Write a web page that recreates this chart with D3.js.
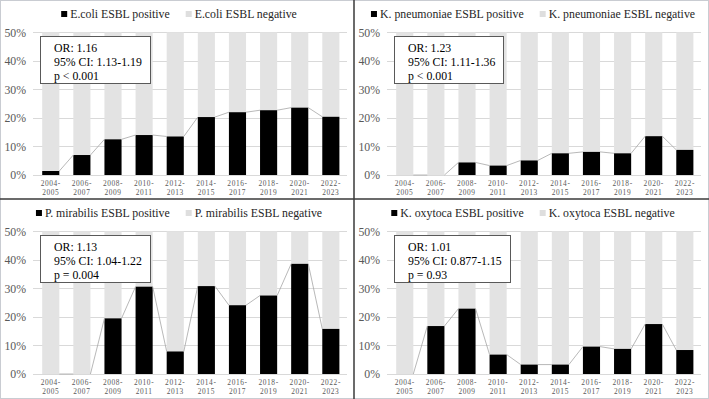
<!DOCTYPE html>
<html>
<head>
<meta charset="utf-8">
<script src="https://cdn.jsdelivr.net/npm/d3@7.9.0/dist/d3.min.js"></script>
<style>
  html, body { margin: 0; padding: 0; background: #fff; }
  svg text { font-family: "Liberation Serif", "Times New Roman", serif; }
</style>
</head>
<body>
<div id="chart"></div>
<script>
// periods on the x axis
const periods = ["2004-2005", "2006-2007", "2008-2009", "2010-2011", "2012-2013",
  "2014-2015", "2016-2017", "2018-2019", "2020-2021", "2022-2023"];

// % ESBL positive per period
const ecoli = [1.4, 7.0, 12.5, 14.0, 13.5, 20.3, 22.0, 22.7, 23.6, 20.4];
const kpneumoniae = [0, 0, 4.4, 3.3, 5.1, 7.6, 8.1, 7.6, 13.6, 8.8];
const pmirabilis = [0, 0, 19.5, 30.6, 7.9, 30.8, 24.1, 27.5, 38.6, 15.8];
const koxytoca = [0, 16.8, 22.9, 6.8, 3.3, 3.3, 9.6, 8.8, 17.5, 8.4];

const organisms = ["E.coli", "K. pneumoniae", "P. mirabilis", "K. oxytoca"];
const seriesValues = [ecoli, kpneumoniae, pmirabilis, koxytoca];
const statLines = [
  ["OR: 1.16", "95% CI: 1.13-1.19", "p < 0.001"],
  ["OR: 1.23", "95% CI: 1.11-1.36", "p < 0.001"],
  ["OR: 1.13", "95% CI: 1.04-1.22", "p = 0.004"],
  ["OR: 1.01", "95% CI: 0.877-1.15", "p = 0.93"]
];
const yTicks = [0, 10, 20, 30, 40, 50];

const width = 709, height = 399;
const panelW = 354, panelH = 199;
const posColor = "#000000", negColor = "#e3e3e3";
const serif = "'Liberation Serif', 'Times New Roman', serif";

const svg = d3.select("#chart").append("svg")
  .attr("width", width)
  .attr("height", height)
  .style("display", "block");

// outer frame
svg.append("rect")
  .attr("x", 0.5).attr("y", 0.5)
  .attr("width", width - 1).attr("height", height - 1)
  .attr("fill", "none")
  .attr("stroke", "#c9ccd2");

const xScale = d3.scaleBand()
  .domain(periods)
  .range([35.2, 346.4])
  .paddingInner(0.45)
  .paddingOuter(0.225);

const yScale = d3.scaleLinear()
  .domain([0, 50])
  .range([175, 32.3])
  .clamp(true);

function drawPanel(i) {
  const values = seriesValues[i];
  const name = organisms[i];
  const g = svg.append("g")
    .attr("transform", `translate(${(i % 2) * panelW}, ${Math.floor(i / 2) * panelH})`);

  // gridlines
  g.append("g")
    .selectAll("line")
    .data(yTicks)
    .join("line")
    .attr("x1", 33).attr("x2", 347)
    .attr("y1", d => Math.round(yScale(d)) + 0.5)
    .attr("y2", d => Math.round(yScale(d)) + 0.5)
    .attr("stroke", "#d9d9d9")
    .attr("stroke-width", 1);

  // y axis labels
  const yAxis = d3.axisLeft(yScale)
    .tickValues(yTicks)
    .tickFormat(d => d + "%")
    .tickSize(0)
    .tickPadding(7);
  const ya = g.append("g")
    .attr("transform", "translate(33,0)")
    .call(yAxis);
  ya.select(".domain").remove();
  ya.attr("font-family", null);
  ya.selectAll("text")
    .attr("fill", "#595959")
    .style("font-family", serif)
    .style("font-size", "11.8px");

  // negative (light) bars, stacked above positive
  g.append("g")
    .selectAll("rect")
    .data(values)
    .join("rect")
    .attr("x", (d, j) => xScale(periods[j]))
    .attr("width", xScale.bandwidth())
    .attr("y", d => yScale(100))
    .attr("height", d => yScale(d) - yScale(100))
    .attr("fill", negColor);

  // positive (black) bars
  g.append("g")
    .selectAll("rect")
    .data(values)
    .join("rect")
    .attr("x", (d, j) => xScale(periods[j]))
    .attr("width", xScale.bandwidth())
    .attr("y", d => yScale(d))
    .attr("height", d => yScale(0) - yScale(d))
    .attr("fill", posColor);

  // series lines between bar tops
  const links = d3.pairs(values.map((v, j) => ({ v, p: periods[j] })));
  g.append("g")
    .selectAll("line")
    .data(links)
    .join("line")
    .attr("x1", d => xScale(d[0].p) + xScale.bandwidth())
    .attr("y1", d => yScale(d[0].v))
    .attr("x2", d => xScale(d[1].p))
    .attr("y2", d => yScale(d[1].v))
    .attr("stroke", "#a6a6a6")
    .attr("stroke-width", 0.8);

  // x axis labels (two lines)
  const xl = g.append("g")
    .selectAll("text")
    .data(periods)
    .join("text")
    .attr("text-anchor", "middle")
    .attr("fill", "#595959")
    .style("font-family", serif)
    .style("font-size", "7.4px")
    .style("letter-spacing", "0.6px");
  xl.append("tspan")
    .attr("x", d => xScale(d) + xScale.bandwidth() / 2)
    .attr("y", 185.5)
    .text(d => d.slice(0, 5));
  xl.append("tspan")
    .attr("x", d => xScale(d) + xScale.bandwidth() / 2)
    .attr("y", 194.5)
    .text(d => d.slice(5));

  // legend
  const legend = g.append("g").attr("transform", "translate(0,18)");
  const items = [
    { label: `${name} ESBL positive`, color: posColor },
    { label: `${name} ESBL negative`, color: "#dedede" }
  ];
  const itemGroups = legend.selectAll("g")
    .data(items)
    .join("g");
  itemGroups.append("rect")
    .attr("width", 6).attr("height", 6)
    .attr("y", -7)
    .attr("fill", d => d.color);
  const texts = itemGroups.append("text")
    .attr("x", 9)
    .attr("fill", "#262626")
    .style("font-family", serif)
    .style("font-size", "11.8px")
    .text(d => d.label);
  const widths = [];
  texts.each(function () { widths.push(this.getComputedTextLength() + 9); });
  const gap = 16;
  const total = widths[0] + gap + widths[1];
  const start = 179 - total / 2;
  itemGroups.attr("transform", (d, j) => `translate(${j === 0 ? start : start + widths[0] + gap},0)`);

  // stats box
  const box = g.append("g").attr("transform", "translate(40,36)");
  const boxRect = box.append("rect")
    .attr("fill", "#fff")
    .attr("stroke", "#595959")
    .attr("stroke-width", 1);
  const boxTexts = box.selectAll("text")
    .data(statLines[i])
    .join("text")
    .attr("x", 14)
    .attr("y", (d, j) => 15.5 + j * 14.3)
    .attr("fill", "#000")
    .style("font-family", serif)
    .style("font-size", "11.8px")
    .text(d => d);
  let maxW = 0;
  boxTexts.each(function () { maxW = Math.max(maxW, this.getComputedTextLength()); });
  boxRect
    .attr("x", 0.5).attr("y", 0.5)
    .attr("width", Math.round(maxW + 22))
    .attr("height", 47);
}

for (let i = 0; i < 4; i++) drawPanel(i);

// dark separators between panels
svg.append("line")
  .attr("x1", panelW).attr("x2", panelW)
  .attr("y1", 0).attr("y2", height)
  .attr("stroke", "#3a3a3a").attr("stroke-width", 1.5);
svg.append("line")
  .attr("x1", 0).attr("x2", width)
  .attr("y1", panelH).attr("y2", panelH)
  .attr("stroke", "#3a3a3a").attr("stroke-width", 1.5);
</script>
</body>
</html>
